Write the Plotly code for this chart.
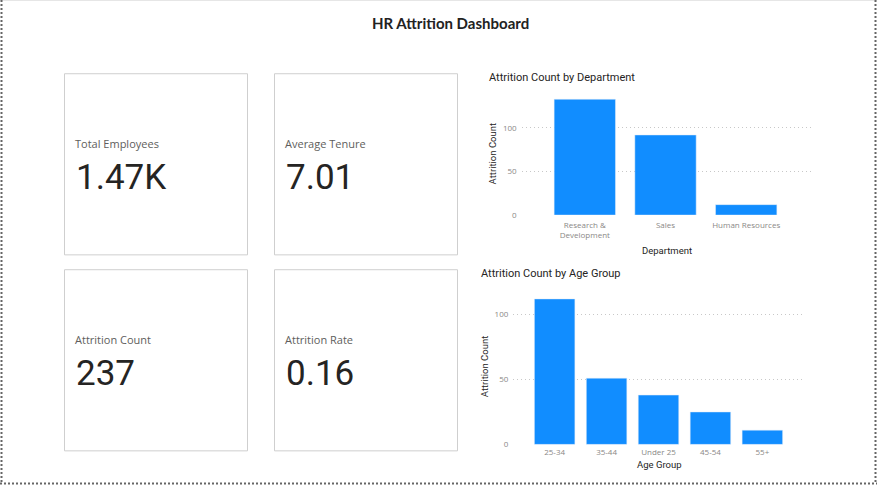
import plotly.graph_objects as go

W, H = 877, 490

# ---- data ----
dashboard_title = "HR Attrition Dashboard"
card_labels = ["Total Employees", "Average Tenure", "Attrition Count", "Attrition Rate"]
card_values = ["1.47K", "7.01", "237", "0.16"]

departments = ["Research & Development", "Sales", "Human Resources"]
department_ticktext = ["Research &<br>Development", "Sales", "Human Resources"]
dept_attrition = [133, 92, 12]

age_groups = ["25-34", "35-44", "Under 25", "45-54", "55+"]
age_attrition = [112, 51, 38, 25, 11]

BAR = "#118DFF"
DARK = "#252423"
GRAY_TXT = "#605E5C"
TICK = "#8a8886"
VAL_FONT = "Roboto"
LBL_FONT = "Open Sans"


def px(x):
    return x / W


def py(y):
    return 1 - y / H


fig = go.Figure()

fig.add_trace(go.Bar(x=departments, y=dept_attrition, marker_color=BAR,
                     xaxis="x", yaxis="y", hoverinfo="x+y", showlegend=False))
fig.add_trace(go.Bar(x=age_groups, y=age_attrition, marker_color=BAR,
                     xaxis="x2", yaxis="y2", hoverinfo="x+y", showlegend=False))

shapes = []
annotations = []

# outer page border
shapes.append(dict(type="line", xref="paper", yref="paper", x0=px(0), x1=px(W), y0=py(0.5), y1=py(0.5),
                   line=dict(color="#e6e6e6", width=1)))
for (x0, y0, x1, y1) in [(1.5, 0, 1.5, 488), (875.5, 0, 875.5, 488), (0, 488.5, 877, 488.5)]:
    shapes.append(dict(type="line", xref="paper", yref="paper", x0=px(x0), x1=px(x1), y0=py(y0), y1=py(y1),
                       line=dict(color="#666666", width=2, dash="2px,2px")))

# cards
cards = [(64, 74), (274, 74), (64, 272), (274, 272)]
for (cx, cy), lab, val in zip(cards, card_labels, card_values):
    shapes.append(dict(type="rect", xref="paper", yref="paper",
                       x0=px(cx + 0.5), x1=px(cx + 183.5), y0=py(cy + 0.5), y1=py(cy + 183.5),
                       line=dict(color="#cfcfcf", width=1), fillcolor="white", layer="below"))
    annotations.append(dict(text=lab, xref="paper", yref="paper", x=px(cx + 9), y=py(cy + 71),
                            xanchor="left", yanchor="middle", showarrow=False,
                            font=dict(family=LBL_FONT, size=11, color=GRAY_TXT)))
    annotations.append(dict(text=val, xref="paper", yref="paper", x=px(cx + 10), y=py(cy + 105),
                            xanchor="left", yanchor="middle", showarrow=False,
                            font=dict(family=VAL_FONT, size=35, color=DARK)))

# title
annotations.append(dict(text="<b>" + dashboard_title + "</b>", xref="paper", yref="paper",
                        x=px(450), y=py(23), xanchor="center", yanchor="middle", showarrow=False,
                        font=dict(family="Lato", size=15, color="#222222")))

# chart titles
annotations.append(dict(text="Attrition Count by Department", xref="paper", yref="paper",
                        x=px(487), y=py(78), xanchor="left", yanchor="middle", showarrow=False,
                        font=dict(family=VAL_FONT, size=11, color=DARK)))
annotations.append(dict(text="Attrition Count by Age Group", xref="paper", yref="paper",
                        x=px(479), y=py(276), xanchor="left", yanchor="middle", showarrow=False,
                        font=dict(family=VAL_FONT, size=11, color=DARK)))

# axis titles
annotations.append(dict(text="Attrition Count", xref="paper", yref="paper", x=px(492), y=py(155),
                        textangle=-90, xanchor="center", yanchor="middle", showarrow=False,
                        font=dict(family=VAL_FONT, size=9.5, color=DARK)))
annotations.append(dict(text="Department", xref="paper", yref="paper", x=px(667), y=py(253),
                        xanchor="center", yanchor="middle", showarrow=False,
                        font=dict(family=VAL_FONT, size=9.5, color=DARK)))
annotations.append(dict(text="Attrition Count", xref="paper", yref="paper", x=px(484), y=py(370),
                        textangle=-90, xanchor="center", yanchor="middle", showarrow=False,
                        font=dict(family=VAL_FONT, size=9.5, color=DARK)))
annotations.append(dict(text="Age Group", xref="paper", yref="paper", x=px(659), y=py(469),
                        xanchor="center", yanchor="middle", showarrow=False,
                        font=dict(family=VAL_FONT, size=9.5, color=DARK)))

tickfont = dict(family=LBL_FONT, size=8, color=TICK)
grid = dict(showgrid=True, gridcolor="#c8c8c8", griddash="1px,3px", gridwidth=1, zeroline=False,
            showline=False, ticks="", tickfont=tickfont, ticklabelstandoff=4)

fig.update_layout(
    width=W, height=H, margin=dict(l=0, r=0, t=0, b=0),
    paper_bgcolor="white", plot_bgcolor="rgba(0,0,0,0)",
    bargap=0.24, showlegend=False,
    shapes=shapes, annotations=annotations,
    xaxis=dict(domain=[px(521.7), px(812.3)], anchor="y", range=[-0.782, 2.819],
               type="category", tickvals=departments, ticktext=department_ticktext,
               showgrid=False, zeroline=False, showline=False, ticks="", tickfont=tickfont,
               ticklabelstandoff=4, fixedrange=True),
    yaxis=dict(domain=[py(217.3), py(94.1)], anchor="x", range=[0, 140],
               tickvals=[0, 50, 100], fixedrange=True, **grid),
    xaxis2=dict(domain=[px(513.3), px(803.3)], anchor="y2", range=[-0.796, 4.788],
                type="category", showgrid=False, zeroline=False, showline=False, ticks="",
                tickfont=tickfont, ticklabelstandoff=2, fixedrange=True),
    yaxis2=dict(domain=[py(449), py(294.1)], anchor="x2", range=[0, 118],
                tickvals=[0, 50, 100], fixedrange=True, **grid),
)
fig.data[1].update(width=0.78)

fig.write_html("out.html")
